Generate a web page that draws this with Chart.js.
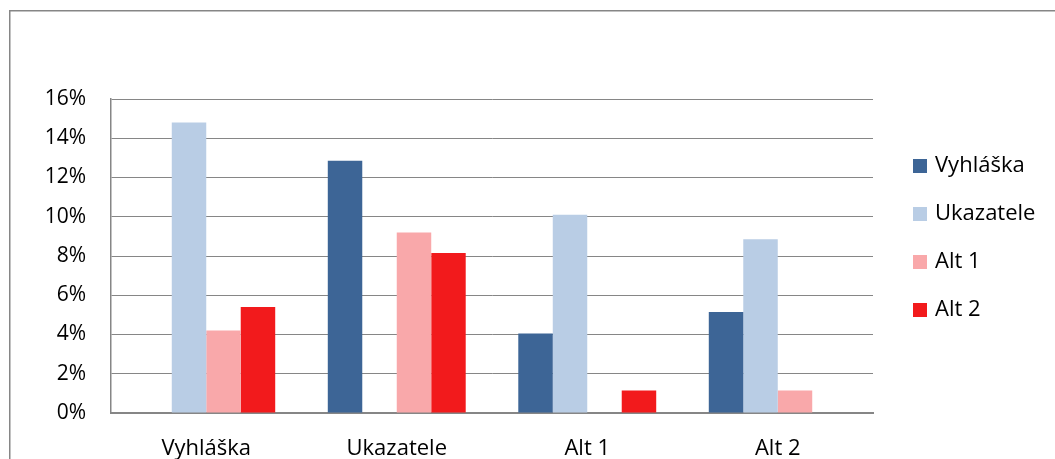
<!DOCTYPE html>
<html>
<head>
<meta charset="utf-8">
<script src="https://cdn.jsdelivr.net/npm/chart.js@4/dist/chart.umd.min.js"></script>
<style>
  html, body { margin: 0; padding: 0; background: #ffffff; }
  #wrap { width: 1055px; height: 459px; position: relative; }
</style>
</head>
<body>
<div id="wrap"><canvas id="c" width="1055" height="459"></canvas></div>
<script>
// Categories and series (shares in percent)
const categories = ['Vyhláška', 'Ukazatele', 'Alt 1', 'Alt 2'];
const seriesNames = ['Vyhláška', 'Ukazatele', 'Alt 1', 'Alt 2'];
const vyhlaska  = [0,    12.85, 4.05, 5.15];
const ukazatele = [14.8, 0,     10.1, 8.85];
const alt1      = [4.2,  9.2,   0,    1.15];
const alt2      = [5.4,  8.15,  1.15, 0];
const yTicks = [0, 2, 4, 6, 8, 10, 12, 14, 16];

const colors = ['#3D6596', '#B9CDE5', '#F9A8AA', '#F21A1C'];
const FONT = '"Open Sans", Lato, sans-serif';

// Outer frame of the chart object
const framePlugin = {
  id: 'frame',
  beforeDraw(chart) {
    const ctx = chart.ctx;
    ctx.save();
    ctx.fillStyle = '#ffffff';
    ctx.fillRect(0, 0, chart.width, chart.height);
    ctx.strokeStyle = '#868686';
    ctx.lineWidth = 1.5;
    ctx.beginPath();
    ctx.moveTo(9.75, chart.height);
    ctx.lineTo(9.75, 10.75);
    ctx.lineTo(chart.width, 10.75);
    ctx.stroke();
    ctx.restore();
  }
};

// Legend drawn as a column to the right of the plot
const sideLegend = {
  id: 'sideLegend',
  afterDraw(chart) {
    const ctx = chart.ctx;
    ctx.save();
    ctx.font = '22px ' + FONT;
    ctx.textBaseline = 'middle';
    ctx.textAlign = 'left';
    chart.data.datasets.forEach((ds, i) => {
      const y = 166 + i * 48;
      ctx.fillStyle = ds.backgroundColor;
      ctx.fillRect(913, y - 7, 14, 14);
      ctx.fillStyle = '#000000';
      ctx.fillText(ds.label, 935, y);
    });
    ctx.restore();
  }
};

const series = [vyhlaska, ukazatele, alt1, alt2];

new Chart(document.getElementById('c'), {
  type: 'bar',
  data: {
    labels: categories,
    datasets: series.map((vals, i) => ({
      label: seriesNames[i],
      data: vals,
      backgroundColor: colors[i],
      borderWidth: 0,
      categoryPercentage: 0.724,
      barPercentage: 1.0
    }))
  },
  options: {
    responsive: false,
    animation: false,
    layout: { padding: { left: 0, right: 182, top: 99, bottom: 0 } },
    plugins: { legend: { display: false }, tooltip: { enabled: false } },
    scales: {
      x: {
        grid: { display: false, drawTicks: false },
        border: { display: true, color: '#868686', width: 2 },
        ticks: { color: '#000000', font: { family: FONT, size: 22 }, padding: 23, maxRotation: 0 },
        afterFit(scale) { scale.height = 46; }
      },
      y: {
        min: 0, max: 16,
        afterBuildTicks(scale) { scale.ticks = yTicks.map(v => ({ value: v })); },
        grid: { color: '#868686', lineWidth: 1, drawTicks: false },
        border: { display: true, color: '#868686', width: 1.5 },
        ticks: {
          color: '#000000',
          font: { family: FONT, size: 21 },
          padding: 25,
          callback: v => v + '%'
        },
        afterFit(scale) { scale.width = 111; }
      }
    }
  },
  plugins: [framePlugin, sideLegend]
});
</script>
</body>
</html>
